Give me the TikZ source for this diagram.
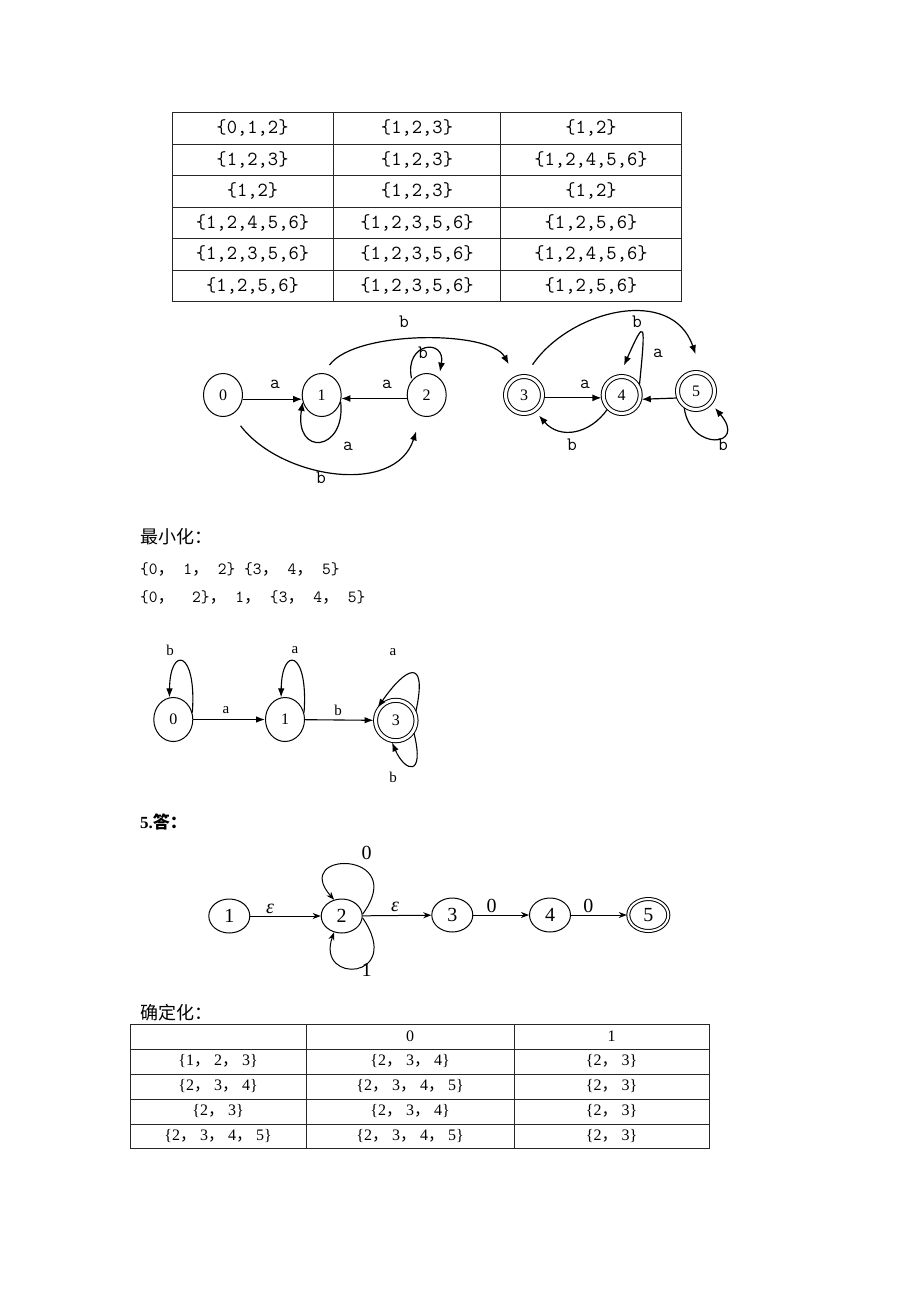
\documentclass[tikz,border=0pt]{standalone}
\usepackage{fontspec}
\setmainfont{Liberation Serif}
\newfontfamily\cjkfnt{Noto Sans CJK SC}
\usetikzlibrary{shapes.geometric,arrows.meta}
\newcommand\cjkc{{\cjkfnt ，}}
\begin{document}
\begin{tikzpicture}[x=1pt,y=-1pt,
  tline/.style={draw=black!85, line width=1pt},
  ttxt/.style={font=\ttfamily\fontsize{20}{20}\selectfont, inner sep=0pt},
  btxt/.style={font=\fontsize{16}{16}\selectfont, inner sep=0pt},
  mtxt/.style={font=\ttfamily\fontsize{17}{17}\selectfont, inner sep=0pt, anchor=west},
  ctxt/.style={font=\cjkfnt\fontsize{18}{18}\selectfont, inner sep=0pt, anchor=west},
  st/.style={ellipse, draw, line width=1pt, inner sep=0pt, minimum width=39pt, minimum height=43pt, font=\fontsize{16}{16}\selectfont},
  acc/.style={double, double distance=3pt, minimum width=37pt, minimum height=37pt, outer sep=2pt},
  st2/.style={ellipse, draw, line width=1pt, inner sep=0pt, minimum width=39pt, minimum height=44pt, font=\fontsize{16}{16}\selectfont},
  acc2/.style={double, double distance=3pt, minimum width=40.5pt, minimum height=40.5pt, outer sep=2pt},
  st3/.style={ellipse, draw, line width=1pt, inner sep=0pt, minimum width=41pt, minimum height=34pt, font=\fontsize{20}{20}\selectfont},
  acc3/.style={double, double distance=2pt, minimum width=40pt, minimum height=32pt, outer sep=1.5pt},
  lblm/.style={font=\ttfamily\fontsize{19}{19}\selectfont, inner sep=0pt},
  lbls/.style={font=\fontsize{15}{15}\selectfont, inner sep=0pt},
  lblt/.style={font=\fontsize{20}{20}\selectfont, inner sep=0pt},
  arrA/.style={line width=1.2pt, -{Latex[length=9pt,width=7pt]}},
  arrB/.style={line width=1.1pt, -{Latex[length=9pt,width=6.5pt]}},
  arrC/.style={line width=1pt, -{Stealth[length=8pt,width=6pt,inset=2.5pt]}}
]
\fill[white] (0,0) rectangle (920,1302);
\useasboundingbox (0,0) rectangle (920,1302);

% ---------- top table ----------
\draw[tline] (172,112) rectangle (681,301);
\foreach \yy in {144,175.5,207,238.5,270} \draw[tline] (172,\yy) -- (681,\yy);
\foreach \xx in {333,500.5} \draw[tline] (\xx,112) -- (\xx,301);
\node[ttxt] (a11) at (252.5,128) {\{0,1,2\}};
\node[ttxt] (a12) at (417,128) {\{1,2,3\}};
\node[ttxt] (a13) at (591,128) {\{1,2\}};
\node[ttxt] (a21) at (252.5,159.75) {\{1,2,3\}};
\node[ttxt] (a22) at (417,159.75) {\{1,2,3\}};
\node[ttxt] (a23) at (591,159.75) {\{1,2,4,5,6\}};
\node[ttxt] (a31) at (252.5,191.25) {\{1,2\}};
\node[ttxt] (a32) at (417,191.25) {\{1,2,3\}};
\node[ttxt] (a33) at (591,191.25) {\{1,2\}};
\node[ttxt] (a41) at (252.5,222.75) {\{1,2,4,5,6\}};
\node[ttxt] (a42) at (417,222.75) {\{1,2,3,5,6\}};
\node[ttxt] (a43) at (591,222.75) {\{1,2,5,6\}};
\node[ttxt] (a51) at (252.5,254.25) {\{1,2,3,5,6\}};
\node[ttxt] (a52) at (417,254.25) {\{1,2,3,5,6\}};
\node[ttxt] (a53) at (591,254.25) {\{1,2,4,5,6\}};
\node[ttxt] (a61) at (252.5,285.5) {\{1,2,5,6\}};
\node[ttxt] (a62) at (417,285.5) {\{1,2,3,5,6\}};
\node[ttxt] (a63) at (591,285.5) {\{1,2,5,6\}};

% ---------- first automaton ----------
\node[st] (n0) at (223,395) {0};
\node[st] (n1) at (321.7,395) {1};
\node[st] (n2) at (426.7,395) {2};
\node[st,acc] (n3) at (524,395) {3};
\node[st,acc] (n4) at (621.7,395) {4};
\node[st,acc] (n5) at (696,391) {5};

\draw[arrA] (n0.-12) -- (n1.192);
\draw[arrA] (n2.190) -- (n1.-10);
\draw[arrA] (n1.-20) .. controls (346,452) and (294,457) .. (n1.200);
\draw[arrA, shorten <=2pt, shorten >=6pt] (n2.135) .. controls (404,342) and (446,338) .. (n2.55);
\draw[arrA, shorten <=14pt, shorten >=16pt] (n0.-65) .. controls (280,478) and (395,497) .. (n2.-105);
\draw[arrA, shorten <=10pt, shorten >=14pt] (n1.85) .. controls (355,330) and (490,330) .. (n3.115);
\draw[arrA, shorten <=12pt, shorten >=18pt] (n3.85) .. controls (570,310) and (672,285) .. (n5.75);
\draw[arrA] (n3.-8) -- (n4.188);
\draw[arrA, shorten >=5pt] (n4.225) .. controls (590,434) and (560,440) .. (n3.-55);
\draw[arrA] (n5.200) -- (n4.-12);
\draw[arrA, shorten >=10pt] (n4.30) .. controls (646,320) and (645,318) .. (n4.95);
\draw[arrA, shorten >=5pt] (n5.235) .. controls (690,452) and (748,447) .. (n5.-40);

\node[lblm] (la01) at (275,384) {a};
\node[lblm] (la21) at (387,384) {a};
\node[lblm] (la11) at (348,446) {a};
\node[lblm] (lb22) at (423,353) {b};
\node[lblm] (lb02) at (321,478) {b};
\node[lblm] (lb13) at (404,322) {b};
\node[lblm] (lb35) at (637,322) {b};
\node[lblm] (la34) at (585,384) {a};
\node[lblm] (lb43) at (572,445) {b};
\node[lblm] (la44) at (658,353) {a};
\node[lblm] (lb55) at (723,445) {b};

% ---------- minimisation text ----------
\node[ctxt] (tmin) at (140,537) {最小化：};
\node[mtxt] (tl2) at (140,570) {\{0\cjkc\ 1\cjkc\ 2\}\ \{3\cjkc\ 4\cjkc\ 5\}};
\node[mtxt] (tl3) at (140,598) {\{0\cjkc\ \ 2\}\cjkc\ 1\cjkc\ \{3\cjkc\ 4\cjkc\ 5\}};

% ---------- minimised automaton ----------
\node[st2] (m0) at (173.3,719.5) {0};
\node[st2] (m1) at (285,719.5) {1};
\node[st2,acc2] (m3) at (395.8,720.5) {3};
\draw[arrB] (m0) -- (m1);
\draw[arrB] (m1) -- (m3);
\draw[arrB] (m0.20) .. controls (197,650) and (170,645) .. (m0.100);
\draw[arrB] (m1.20) .. controls (308.7,650) and (281.7,645) .. (m1.100);
\draw[arrB] (m3.25) .. controls (428,655) and (405,668) .. (m3.145);
\draw[arrB] (m3.-35) .. controls (425,778) and (405,772) .. (m3.-100);
\node[lbls] (ma01) at (226,710) {a};
\node[lbls] (mb13) at (338,710) {b};
\node[lbls] (mb00) at (170,650) {b};
\node[lbls] (ma11) at (295,650) {a};
\node[lbls] (ma33) at (393,651.7) {a};
\node[lbls] (mb33) at (393,777) {b};

% ---------- section 5 ----------
\node[anchor=west, inner sep=0pt, font=\bfseries\fontsize{17}{17}\selectfont] (t5) at (140,822) {5.{\cjkfnt 答：}};
\node[st3] (e1) at (229.3,916) {1};
\node[st3] (e2) at (341.7,916) {2};
\node[st3] (e3) at (452.3,915) {3};
\node[st3] (e4) at (550,915) {4};
\node[st3,acc3] (e5) at (648.3,915) {5};
\draw[arrC] (e1) -- (e2);
\draw[arrC] (e2) -- (e3);
\draw[arrC] (e3) -- (e4);
\draw[arrC] (e4) -- (e5);
\draw[arrC] (e2.5) .. controls (410,850) and (290,850) .. (e2.115);
\draw[arrC] (e2.-5) .. controls (405,980) and (315,985) .. (e2.-115);
\node[lblt] (ee12) at (270,909) {\itshape ε};
\node[lblt] (ee23) at (395,907) {\itshape ε};
\node[lblt] (e034) at (491.7,906) {0};
\node[lblt] (e045) at (588.3,906) {0};
\node[lblt] (e022) at (366.7,853) {0};
\node[lblt] (e122) at (366.7,970) {1};

% ---------- determinisation table ----------
\node[ctxt] (tdet) at (140,1013) {确定化：};
\draw[tline] (130,1024) rectangle (709,1148);
\foreach \yy in {1049,1074,1099,1124} \draw[tline] (130,\yy) -- (709,\yy);
\foreach \xx in {306,514} \draw[tline] (\xx,1024) -- (\xx,1148);
\node[btxt] (b02) at (410,1036.5) {0};
\node[btxt] (b03) at (611.5,1036.5) {1};
\node[btxt] (b11) at (218,1061.5) {\{1\cjkc\ 2\cjkc\ 3\}};
\node[btxt] (b12) at (410,1061.5) {\{2\cjkc\ 3\cjkc\ 4\}};
\node[btxt] (b13) at (611.5,1061.5) {\{2\cjkc\ 3\}};
\node[btxt] (b21) at (218,1086.5) {\{2\cjkc\ 3\cjkc\ 4\}};
\node[btxt] (b22) at (410,1086.5) {\{2\cjkc\ 3\cjkc\ 4\cjkc\ 5\}};
\node[btxt] (b23) at (611.5,1086.5) {\{2\cjkc\ 3\}};
\node[btxt] (b31) at (218,1111.5) {\{2\cjkc\ 3\}};
\node[btxt] (b32) at (410,1111.5) {\{2\cjkc\ 3\cjkc\ 4\}};
\node[btxt] (b33) at (611.5,1111.5) {\{2\cjkc\ 3\}};
\node[btxt] (b41) at (218,1136) {\{2\cjkc\ 3\cjkc\ 4\cjkc\ 5\}};
\node[btxt] (b42) at (410,1136) {\{2\cjkc\ 3\cjkc\ 4\cjkc\ 5\}};
\node[btxt] (b43) at (611.5,1136) {\{2\cjkc\ 3\}};
\end{tikzpicture}
\end{document}
